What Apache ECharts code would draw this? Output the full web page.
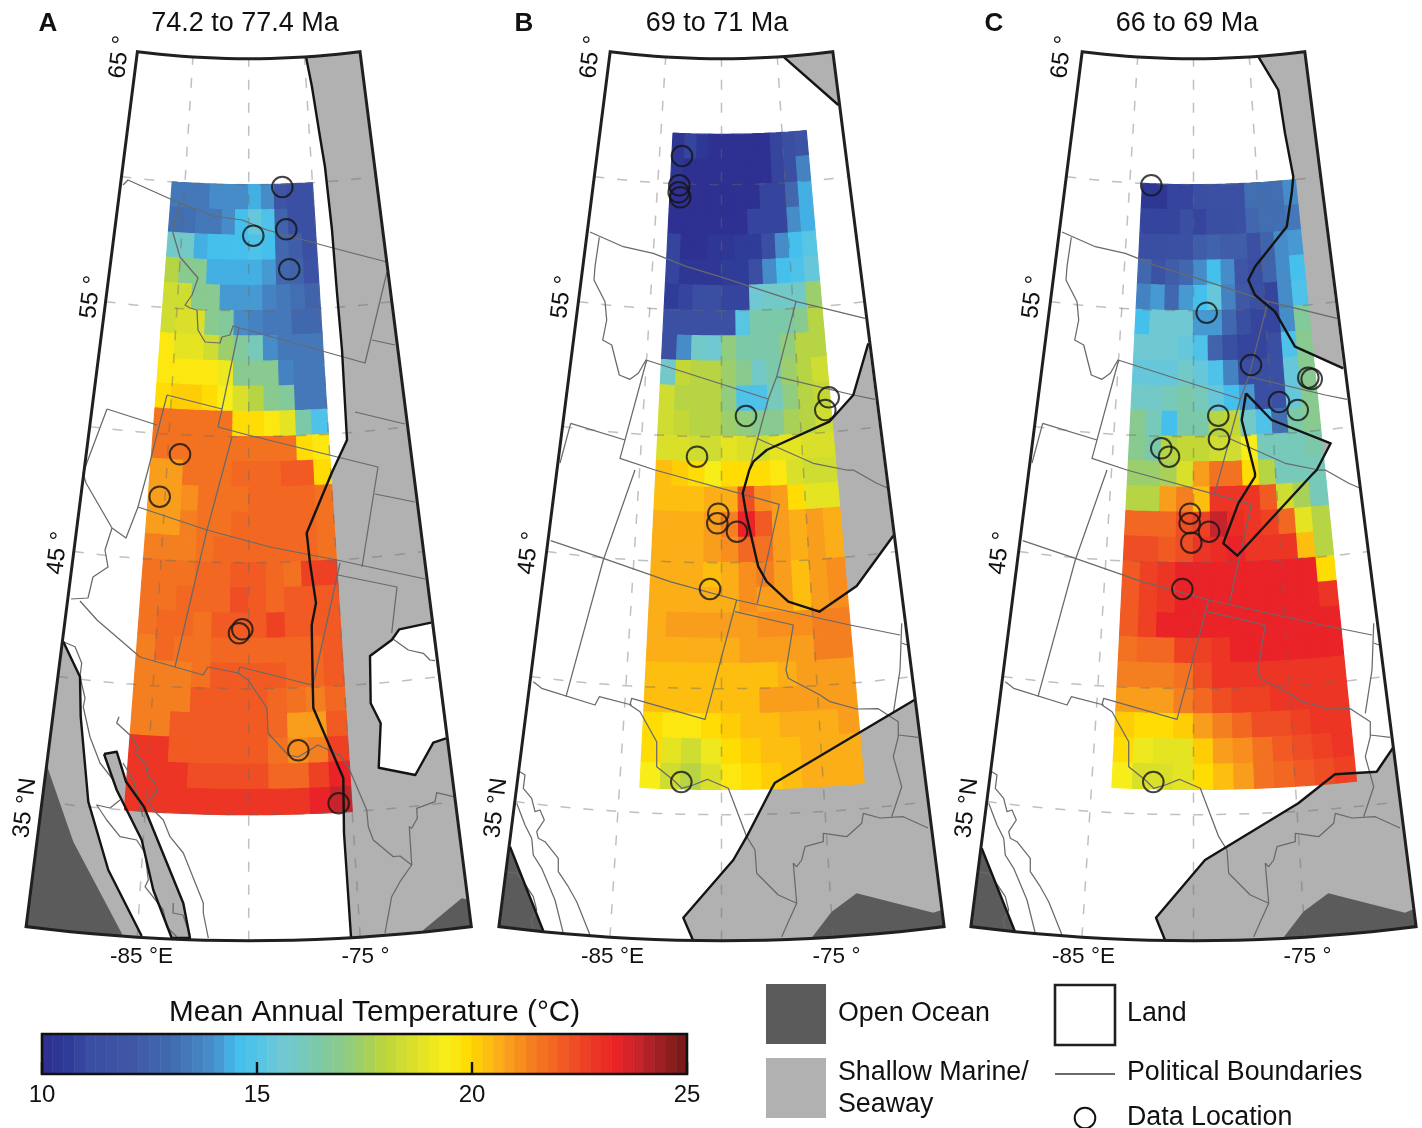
<!DOCTYPE html>
<html><head><meta charset="utf-8"><style>html,body{margin:0;padding:0;background:#fff}#c{width:1422px;height:1128px}</style>
<script src="https://cdn.jsdelivr.net/npm/echarts@6/dist/echarts.min.js"></script></head>
<body><div id="c"></div><script>
// ---- temperature scale, 10 to 25 C in half-degree stops
const tempPalette=['#2e3192','#2f3c98','#3a4ea2','#3c52a4','#3f57a6','#4062ab','#426cb0','#4580bf','#4793cd','#43bfee','#53c4e6','#6fc9d6','#75c9c0','#7fc9a0','#8ccb88','#a3cf62','#bcd63a','#d5de2e','#e8e620','#fbee18','#ffd800','#fdb913','#f8991d','#f47b20','#f26522','#ef4b24','#ec3324','#e92227','#c4242b','#9c1f24','#7a1a1a'];
const barTicks=[10,15,20,25];
// ---- mean annual temperature, rows north to south, columns west to east, 1 degree cells
const tempA=[
[13.4,13.4,13.4,13.8,13.8,14,14.5,14,12,11.5,11.5],
[13.2,13.2,13.5,13.5,14,14.6,15.3,15,12.7,11.3,11.3],
[15.9,15.9,14.4,14.6,14.6,14.7,14.9,14.7,13,12.5,11.5],
[18,16.8,16.8,14.5,14.5,14.5,14.5,14.2,13,12.6,11.7],
[18.3,18.3,16.8,16.8,14.1,14.1,14.1,13.7,13.4,13.1,12.7],
[18.5,18.6,18.7,16.8,16.6,14,13.6,13.5,13.4,13,12.9],
[19.6,18.9,18.9,18.3,17.3,16.6,16.1,14,13.5,13.5,13.3],
[19.7,19.7,19.7,19.7,19.2,16.9,16.9,16.8,13.6,13.5,13.5],
[20,20.1,20.1,20,19.5,18.6,18,16.8,16.7,13.5,13.4],
[21.6,21.6,21.6,21.6,21.6,20,19.8,19.6,19,16.5,15],
[21.7,21.7,21.6,21.6,21.6,21.6,21.7,21.7,21.7,20,19.6],
[21,21,21.7,21.7,21.7,21.8,21.8,21.8,22.2,22.2,20],
[20.9,20.9,21.2,21.7,21.7,21.7,22,22,22,22,21.6],
[20.9,20.9,21.3,21.7,21.7,22,22,22,22,22,21.6],
[21.3,21.3,21.5,21.7,22,22,22,22,22,22,21.7],
[21.7,21.7,21.7,21.9,21.9,22.2,22.2,21.9,21.6,22.6,22.6],
[21.7,21.7,22,22,22,22.4,22.1,21.9,22.1,22.2,22.1],
[21.6,22,22,21.6,22.1,22.1,22.1,22.6,22.1,22.1,22.1],
[21.4,22,21.7,21.7,22,22,22,22,22,22,22.2],
[21.4,21.4,21.4,21.7,22.1,22.1,22.1,22.1,21.9,22,22.2],
[21.4,21.4,21.4,22.1,22.1,22.1,22.1,21.9,21.6,21.5,22],
[21.4,21.4,22.2,22.2,22.2,22.1,22.1,21.8,20.8,20.8,22.1],
[22.8,22.8,22.2,22.2,22.2,22.2,22.1,21.7,21.1,21.5,22.6],
[22.8,22.8,22.8,22.3,22.3,22.3,22.3,21.8,21.9,22.7,23.4],
[22.8,22.8,22.8,22.8,22.8,22.8,22.8,22.8,23,23.3,24]];
const tempB=[
[10.5,11,10.3,10.2,10.2,10.2,10.2,10.2,11,11.2,11.6],
[10.5,10.2,10.2,10.2,10.2,10.2,10.2,10.2,11,11.2,13.6],
[10,10,10.2,10.2,10.2,10.2,10.2,10.8,11,12.9,14.4],
[10.2,10.2,10.2,10.2,10.2,10.2,10.8,10.8,11,14,14.4],
[10.8,10.2,10.2,10.4,10.4,10.6,10.6,11.2,14,14.7,15.2],
[10.8,10.3,10.3,10.4,10.7,10.7,11.2,13.9,14.6,15,15.5],
[10.7,11,11.2,11.2,11,11,15.6,15.8,15.8,16,17.5],
[11.3,11.3,11.3,11.4,11.4,15.2,16.4,16.4,16.4,17,17.8],
[11.4,13.8,15.9,15.6,17.2,16.5,16.4,16.5,17.2,17.8,18],
[16,18.2,18,17.9,17.3,16.8,15.8,16.3,17.3,18,18.3],
[18.3,18,18,17.8,17.2,15,14.8,16.2,17.2,17.8,18.2],
[18.5,18.2,17.9,17.9,17.3,17.2,16.8,16.8,17.7,18,18.3],
[18.6,18.6,18.3,18.4,18.8,18.6,18.4,18.8,18.8,18.6,18.6],
[20.3,20.2,20,19.4,20,20,20,19.6,18.6,18.5,18.5],
[20.4,20.4,20.4,20.7,20.7,22.3,21.2,20.8,20,19,19],
[20.6,20.6,20.6,20.9,21.4,23.3,22.1,20.8,20.7,20.9,20.6],
[20.7,20.7,20.7,20.9,21.2,21.8,21.7,20.9,20.6,20.9,20.7],
[20.7,20.7,20.7,20.3,20.6,21.2,21.5,20.9,20.4,21,21.1],
[20.7,20.7,20.7,20.7,20.7,21.2,21,20.8,20.5,21,21.1],
[20.7,21,21,21,20.9,20.9,21.2,21.2,21.2,21.3,21.3],
[20.7,20.7,20.7,20.7,20.7,20.8,20.8,20.9,21,21.3,21.3],
[20.4,20.4,20.4,20.4,20.4,20.5,20.5,20.6,20.9,21,21],
[20.3,20.3,20.3,20.3,20.4,20.5,20.8,20.8,21,20.9,20.9],
[20,19.6,19.6,20,20.1,20.4,20.4,20.6,20.6,20.6,20.9],
[19.8,19,18.3,19.2,20,20.2,20.5,20.5,20.6,20.6,20.7],
[19.5,18.5,18,18.6,19.6,20,20.2,20.5,20.6,20.6,20.6]];
const tempC=[
[10.3,10.5,11,11,11.1,11.3,11.3,11.3,13.2,13.2,13.2,13.8],
[10.8,11,11,11.1,11,11.2,11.2,11.3,13,13.1,13.1,13.3],
[11.1,11.2,11.3,11.4,12.5,12.7,12.3,12.3,11.4,12.7,14,14.2],
[12.9,11.6,12.5,12.8,13.9,14.6,14,11.9,11.2,12.7,14,14.7],
[13.7,14.2,12.9,14.1,14.7,15.5,13.6,12.1,11.4,11,13.9,15],
[14.6,15.6,15.6,15.6,14.1,14.1,12.8,11.2,11,11,14,16.6],
[15.6,15.6,15.6,15.3,15,12.6,11.2,11,11,11.2,14.8,17],
[15.5,15.5,15.5,16,15.4,14.8,13.6,11.2,11.1,11.4,15.3,16.9],
[16,15.9,16.2,16.3,16.1,15.5,14.7,14.2,11.2,11.3,15.5,16.9],
[16.9,16.1,14.6,16.3,16.5,18,18.2,15.8,14.8,13.2,16.4,16.9],
[17,16.4,17.8,18.1,18.2,18.4,18.5,19.3,16.2,16.1,16.1,16.4],
[17.4,17.5,17.6,18.7,21,21.7,21.7,20,18,16.1,16.1,16.2],
[17.8,18,21,21.4,20.3,23,23,22.8,22.1,18.5,17.6,16.2],
[22,22,22,22.3,22.6,24,23.2,23,22.6,21.8,18.8,17.8],
[22.3,22.3,22.1,22.4,22.9,23.2,23.3,23,22.8,22.8,20.3,18],
[22.2,22.7,22.9,23.3,23.4,23.4,23.4,23.4,23.4,23.4,23.4,20],
[22.2,22.7,22.9,23.3,23.4,23.4,23.4,23.4,23.4,23.4,23.4,22.9],
[22.2,22.7,23.4,23.4,23.4,23.4,23.4,23.4,23.4,23.4,23.4,23.4],
[21.6,21.9,21.9,22.7,22.6,22.8,23.4,23.4,23.4,23.4,23.4,23.4],
[21.3,21.3,21.3,21.6,22.4,22.8,22.9,22.8,22.9,23,23,23],
[20.8,20.8,20.8,21.3,22,22.5,22.7,22.7,22.9,22.8,23,23],
[20.2,20,20,20.2,20.8,21.4,22,22.3,22.5,22.6,22.8,22.9],
[20,19.2,18.9,19,20.2,20.8,21.2,21.6,22.2,22.5,22.7,22.8],
[19.5,18.7,18.6,18.9,19.9,20.5,21,21.6,21.8,22.1,22.5,22.6]];
// ---- data locations, in map easting / map southing units
const sitesA=[[282.3,187],[286.3,229.3],[253.3,235.7],[289.3,269.3],[180,454.3],[159.7,496.7],[242.3,629.3],[239,633.3],[298.3,750.3],[338.7,803.3]];
const sitesB=[[682,156],[679.3,185.3],[678.7,192.3],[680.3,197.3],[746,416],[828.7,397.3],[825.3,410],[697,456.7],[718.3,513.7],[717.3,523.3],[737,531.7],[710,589],[681.3,782]];
const sitesC=[[679.3,185.3],[734.7,312.7],[779,365],[836.3,377.7],[839.7,379],[807,402],[825.7,410],[746.3,415.7],[747,439.3],[689.3,448.3],[697,456.7],[718,513.7],[717.7,523.3],[737,531.7],[719.3,542.7],[710.3,589],[681.3,782]];
// ---- paleogeography outlines, same map units
const shoreEastA=[[306,57],[312,87],[320,137],[325,167],[332,230],[337,293],[342,350],[347,440],[331.7,473],[306.7,533],[310,563],[316,603],[311.7,625],[312.7,683],[313.3,708],[343.3,778],[344,833],[351,937]];
const shoreWestA=[[63.3,641.7],[80,676.7],[80.7,716.7],[88.3,801.7],[108.3,870],[141.7,936]];
const deepWestA=[[47.3,766.7],[73.3,841.7],[121.7,933.3]];
const deepEastA=[[423.3,930],[461.7,898.3],[466.7,899.3]];
const straitA=[[104,754],[116.7,751.7],[126,781.7],[144,806.7],[183.3,903.3],[190,938],[171.7,938],[153.3,890],[141.7,840],[116.7,790],[104,754]];
const islandA=[[431,622.7],[399.3,629.3],[391.7,640],[370,656],[370.7,703.3],[380.7,723.3],[378.7,767.7],[415.3,775],[433.3,742.7],[446,738.3]];
const shoreNorthB=[[783.3,56.7],[838.3,105]];
const shoreMidB=[[868.3,343.3],[853.3,395],[829.3,421.7],[766.7,450],[753.3,461.7],[749.3,470],[742.7,493.3],[746.7,516.7],[758.3,566.7],[766.7,581.7],[788.3,601.7],[819.3,611.7],[856.7,586],[893.3,535.7]];
const shoreSouthB=[[914.3,700],[775,782.7],[771.7,788.3],[746.7,836.7],[733.3,860],[683.3,917.7],[692.7,939.5]];
const deepEastB=[[811.7,937.7],[831.7,911.7],[856.7,893.3],[933.3,912.7],[941.7,910]];
const deepWestB=[[510,846.7],[543.3,931]];
const shoreNorthC=[[786.3,56.7],[806.3,90],[813,133.3],[821.3,176.7],[819.7,193.3],[814.7,226.7],[783,266.7],[776.3,280],[783,295],[803,311.7],[823,346.7],[871.3,368.3]];
const seawayC=[[774,393.3],[799.7,420],[858.7,443.3],[844.7,470],[841.3,473.3],[765.3,555.7],[751.3,543.3],[766.3,503.3],[783,476.7],[783,473.3],[769.7,420],[774,393.3]];
const shoreSouthC=[[920.7,748.3],[904.7,771.7],[863,774.3],[826.3,803.3],[733,860],[684,917.7],[693,940]];
const deepEastC=[[811.3,937.7],[831.3,911.7],[856.3,893.3],[933,912.7],[941.3,909.3]];
const deepWestC=[[509.7,848.3],[543,931.7]];
// ---- political boundaries
const politicalA=[
[[123,185],[128,180],[177,202],[213,216],[242,220],[267,230],[333,248],[387,262]],
[[180,203],[175,220],[173,233],[180,257],[198,278],[192,295],[185,305],[190,308],[197,310],[198,330],[205,342],[220,343],[222,337],[230,335],[233,326],[365,363],[387,272]],
[[372,340],[395,345]],[[355,412],[405,424]],
[[239,328],[222,409],[218,427],[248,435],[378,467],[362,567]],
[[167,395],[222,409]],[[167,395],[148,470],[138,507],[207,530],[270,547],[337,560],[425,579]],
[[107,409],[157,425]],[[107,409],[83,473],[86,483],[112,528],[126,538],[138,507]],
[[112,528],[105,550],[108,567],[93,577],[88,598],[71,599]],
[[80,601],[97,620],[140,657],[175,667],[203,675],[208,667],[238,673],[240,667],[312,685]],
[[232,437],[207,530],[175,667]],[[340,563],[313,685]],
[[375,494],[415,502]],[[338,575],[397,587],[391.7,633]],
[[238,673],[248,680],[267,708],[268,733],[288,755],[298,757],[318,745],[333,752],[340,755],[348.3,766.7],[366.7,810],[368.3,826.7],[373.3,840],[393.3,856.7],[400,856],[411.7,865],[400,881.7],[391.7,896.7],[385,933]],
[[411.7,865],[409.3,826.7],[411.7,828.3],[417.3,818.3],[416.7,808.3],[435,801.7],[436.7,792.7],[453.3,796.7]],
[[393.3,639.3],[408.3,650],[423.3,653.3],[430,660],[435,660.7]],
[[63.3,641.7],[75,646.7],[81.7,663],[80,676.7],[85,698],[83.3,707],[90,737],[100,763],[113.3,780],[120,797]],
[[120,800],[110,808],[96.7,805],[106.7,820],[120,836.7],[136.7,840],[145,853],[148.3,880],[145,886.7],[163.3,910],[166.7,926.7],[176.7,936.7]],
[[119,716.7],[116.7,723],[130,735],[138.3,746.7],[135,753],[145,763],[148.3,776.7],[155,783],[156.7,791.7],[148.3,800],[153.3,810],[163.3,820],[170,836.7],[183.3,853],[203.3,903],[203.3,913],[208.3,938]],
[[123,763],[133.3,780],[136.7,793],[143,817]],
[[173.3,903],[173,913],[183,915],[190,935]]];
const politicalBC=[
[[590,232],[623.3,246.7],[653.3,253.3],[686.7,266.7],[720,276.7],[796.7,301.7],[865,318.3]],
[[599.3,237.3],[595,266.7],[594,280],[605,301.7],[606.7,320],[602.7,340],[611.7,345],[619.3,375],[630,379.3],[638.3,373.3],[646,360],[768.3,399]],
[[776.7,376.7],[853.3,395],[875,399.3]],
[[796,301.7],[776.7,376.7],[768.3,399],[748.3,473.3],[742.7,493]],
[[646.7,360],[620,458.3],[655,470],[779.3,504.3],[757.3,603.3]],
[[756.7,438.3],[813.3,463.3],[846.7,470],[853.3,470],[876.7,483.3],[888.3,488.3]],
[[570.7,423.3],[625,440]],[[570.7,423.3],[560,463]],
[[635,470],[603.3,560],[566,696.7]],
[[550.7,540.7],[603.3,558.3],[670,581.7],[736.7,600],[850,625],[900,635]],
[[736.7,600],[705,719.3],[631.7,698.3],[630,705],[640,711.7],[656.7,741.7],[656.7,766.7],[673.3,780],[681.7,788.3],[693.3,785],[707.3,779.3],[728.3,788.3],[746.7,836.7],[755,850],[756.7,873.3],[778.3,895],[796.7,903.3],[781.7,936.7]],
[[533.3,681.7],[541.7,688.3],[595,705],[599.3,696.7],[631.7,705]],
[[735,611.7],[793.3,625],[786,670],[788.3,678.3],[820,695],[830,701.7],[856.7,709],[878.3,708.7],[898.3,721.7],[898.3,736.7],[893.3,756.7],[901.7,786.7],[891.7,816.7]],
[[898.3,735],[918.3,737.3]],[[901.7,623.3],[900,670],[893.3,713.3]],[[901.7,643],[907,645]],
[[928,828],[903.3,816.7],[880,818],[863.3,813.3],[861.7,823.3],[846.7,836.7],[823.3,833.3],[823.3,841.7],[805,846.7],[801.7,860],[796.7,866.7],[793.3,863.3],[796.7,903.3]],
[[520,771.7],[525,775],[523.3,788.3],[531.7,798.3],[535,811.7],[540,810],[544.3,820],[536.7,831.7],[538.3,838.3],[545,841.7],[558.3,858.3],[558.3,871.7],[568.3,886.7],[576.7,901.7],[590,935]],
[[516.7,803.3],[525,825],[531.7,838.3],[533.3,855],[541.7,868.3],[555,900],[563.3,933.3]],
[[506.7,871.7],[516.7,873.3],[526.7,886.7],[533.3,896.7],[536.7,910],[531,920],[533.3,928.3]]];
// ---- labels
const panelLetters=['A','B','C'];
const panelTitles=['74.2 to 77.4 Ma','69 to 71 Ma','66 to 69 Ma'];
const latLabels=['65 °','55 °','45 °','35 °N'];
const lonLabels=['-85 °E','-75 °'];
const gratLons=[-85,-80,-75];
const gratLats=[35,40,45,50,55,60];

// ---- equidistant conic map frame
const R30=1764,KLAT=25.2,CONE=0.725,APEX=-823.3;
const proj=(cx,lon,lat)=>{const r=R30-(lat-30)*KLAT,t=(lon+80)*CONE*Math.PI/180;return [cx+r*Math.sin(t),APEX+r*Math.cos(t)];};
const arcBy=(cx,lat,x0,x1)=>{const r=R30-(lat-30)*KLAT,o=[];for(let i=0;i<=12;i++){const x=x0+(x1-x0)*i/12,d=x-cx;o.push([x,APEX+Math.sqrt(r*r-d*d)]);}return o;};
const parallel=(cx,lat,a,b)=>{const o=[];for(let l=a;a<b?l<=b:l>=b;l+=(a<b?1:-1))o.push(proj(cx,l,lat));return o;};
const framePts=cx=>[...parallel(cx,65,-90,-70),...parallel(cx,30,-70,-90)];

const CA=248.7,CB=721.5;
const eastA=[...shoreEastA,...arcBy(CA,30,351,proj(CA,-70,30)[0]),proj(CA,-70,65),...arcBy(CA,65,proj(CA,-70,65)[0],306)];
const westA=[...shoreWestA,...arcBy(CA,30,141.7,proj(CA,-90,30)[0])];
const dWestA=[...deepWestA,...arcBy(CA,30,121.7,proj(CA,-90,30)[0])];
const dEastA=[...deepEastA,...arcBy(CA,30,proj(CA,-70,30)[0],423.3)];
const northB=[...shoreNorthB,proj(CB,-70,65),...arcBy(CB,65,proj(CB,-70,65)[0],783.3)];
const midB=[...shoreMidB];
const southB=[...shoreSouthB,...arcBy(CB,30,692.7,proj(CB,-70,30)[0])];
const dEastB=[...deepEastB,...arcBy(CB,30,proj(CB,-70,30)[0],811.7)];
const dWestB=[...deepWestB,...arcBy(CB,30,543.3,proj(CB,-90,30)[0])];
const northC=[...shoreNorthC,proj(CB,-70,65),...arcBy(CB,65,proj(CB,-70,65)[0],786.3)];
const southC=[...shoreSouthC,...arcBy(CB,30,693,proj(CB,-70,30)[0])];
const dEastC=[...deepEastC,...arcBy(CB,30,proj(CB,-70,30)[0],811.3)];
const dWestC=[...deepWestC,...arcBy(CB,30,543,proj(CB,-90,30)[0])];

const panels=[
 {cx:CA,temp:tempA,lon0:-86,lat0:60,sites:sitesA,political:politicalA,shallow:[eastA,westA,straitA],deep:[dWestA,dEastA],white:[islandA],shores:[shoreEastA,shoreWestA,straitA,islandA]},
 {cx:CB,temp:tempB,lon0:-84,lat0:62,sites:sitesB,political:politicalBC,shallow:[northB,midB,southB],deep:[dEastB,dWestB],white:[],shores:[shoreNorthB,shoreMidB,shoreSouthB,deepWestB]},
 {cx:CB,temp:tempC,lon0:-84,lat0:60,sites:sitesC,political:politicalBC,shallow:[northC,southC,seawayC],deep:[dEastC,dWestC],white:[],shores:[shoreNorthC,shoreSouthC,seawayC,deepWestC]}
];
const grids=[{left:0,top:0,width:475,height:960},{left:480,top:0,width:470,height:960},{left:952,top:0,width:470,height:960},{left:42,top:1034,width:645,height:40}];
const xAxes=[[0,475],[480,950],[480,950]].map((m,i)=>({type:'value',gridIndex:i,min:m[0],max:m[1],show:false}));
const yAxes=[0,1,2].map(i=>({type:'value',gridIndex:i,min:0,max:960,inverse:true,show:false}));
xAxes.push({type:'value',gridIndex:3,min:10,max:25,interval:5,z:6,
  axisLine:{show:false},splitLine:{show:false},
  axisTick:{show:true,inside:true,length:12,lineStyle:{color:'#111',width:2.4}},
  axisLabel:{show:true,margin:9,fontSize:24,color:'#111',fontFamily:'Liberation Sans',formatter:v=>barTicks.includes(v)?String(v):''}});
yAxes.push({type:'value',gridIndex:3,min:0,max:1,show:false});

const series=[],heatIdx=[];
const pathSeries=(g,lists,closed,style)=>series.push({type:'custom',xAxisIndex:g,yAxisIndex:g,silent:true,clip:false,animation:false,
  data:lists.map((_,i)=>[i]),
  renderItem:(p,api)=>({type:closed?'polygon':'polyline',shape:{points:lists[p.dataIndex].map(q=>api.coord(q))},style:Object.assign({},style,closed?{}:{fill:null})})});

panels.forEach((P,g)=>{
  pathSeries(g,[framePts(P.cx)],true,{fill:'#fff'});
  pathSeries(g,P.shallow,true,{fill:'#b1b1b1'});
  pathSeries(g,P.deep,true,{fill:'#5b5b5c'});
  if(P.white.length)pathSeries(g,P.white,true,{fill:'#fff'});
  const cells=[];
  P.temp.forEach((row,i)=>row.forEach((v,j)=>cells.push([P.lon0+j,P.lat0-i,v])));
  heatIdx.push(series.length);
  series.push({type:'custom',xAxisIndex:g,yAxisIndex:g,silent:true,clip:false,animation:false,data:cells,
    dimensions:['lon','lat','temp'],encode:{x:-1,y:-1},
    renderItem:(p,api)=>{
      const lo=api.value(0),la=api.value(1),c=api.visual('color');
      const pts=[[lo,la],[lo+.5,la],[lo+1,la],[lo+1,la-1],[lo+.5,la-1],[lo,la-1]].map(q=>api.coord(proj(P.cx,q[0],q[1])));
      return {type:'polygon',shape:{points:pts},style:{fill:c,stroke:c,lineWidth:1.2,lineJoin:'bevel'}};
    }});
  const grat=[...gratLons.map(l=>{const o=[];for(let a=30;a<=65;a+=5)o.push(proj(P.cx,l,a));return o;}),...gratLats.map(a=>parallel(P.cx,a,-90,-70))];
  pathSeries(g,grat,false,{stroke:'rgba(105,105,105,.42)',lineWidth:1.5,lineDash:[10,13]});
  pathSeries(g,P.political,false,{stroke:'#68696b',lineWidth:1.25,lineJoin:'round'});
  pathSeries(g,P.shores,false,{stroke:'#141414',lineWidth:2.4,lineJoin:'round'});
  series.push({type:'scatter',xAxisIndex:g,yAxisIndex:g,silent:true,clip:false,animation:false,data:P.sites,symbol:'circle',symbolSize:20.6,
    itemStyle:{color:'rgba(0,0,0,0)',borderColor:'#141414',borderWidth:2}});
  pathSeries(g,[framePts(P.cx)],true,{fill:null,stroke:'#231f20',lineWidth:3,lineJoin:'miter'});
});
// colour bar: one block per quarter degree
const barCells=[];for(let i=0;i<60;i++){const v=10+i*.25;barCells.push([v,v+.25,v+.125]);}
heatIdx.push(series.length);
series.push({type:'custom',xAxisIndex:3,yAxisIndex:3,silent:true,clip:false,animation:false,data:barCells,
  dimensions:['from','to','temp'],encode:{x:-1,y:-1},
  renderItem:(p,api)=>{const a=api.coord([api.value(0),1]),b=api.coord([api.value(1),0]),c=api.visual('color');
    return {type:'rect',shape:{x:a[0],y:a[1],width:b[0]-a[0],height:b[1]-a[1]},style:{fill:c,stroke:c,lineWidth:.6}};}});
series.push({type:'custom',xAxisIndex:3,yAxisIndex:3,silent:true,clip:false,animation:false,data:[[0]],z:5,
  renderItem:(p,api)=>{const a=api.coord([10,1]),b=api.coord([25,0]);return {type:'rect',shape:{x:a[0],y:a[1],width:b[0]-a[0],height:b[1]-a[1]},style:{fill:null,stroke:'#111',lineWidth:2.6}};}});

// ---- texts and legend
const FF='"Liberation Sans",Arial,sans-serif';
const txt=(t,x,y,size,o={})=>({type:'text',x,y,rotation:o.rot||0,z:20,silent:true,style:{text:t,fill:'#111',font:`${o.bold?'bold ':''}${size}px ${FF}`,align:o.align||'center',verticalAlign:'middle'}});
const g=[];
[48,524,994].forEach((x,i)=>g.push(txt(panelLetters[i],x,24,26,{bold:true})));
[245,717,1187].forEach((x,i)=>g.push(txt(panelTitles[i],x,24,27)));
const ROT=83*Math.PI/180;
[0,471,942].forEach(dx=>{
  [[120,57],[91,297],[58,553],[25,808]].forEach((q,i)=>g.push(txt(latLabels[i],q[0]+dx,q[1],24,{rot:ROT})));
  g.push(txt(lonLabels[0],141.5+dx,957,22.5),txt(lonLabels[1],365.5+dx,957,22.5));
});
g.push(txt('Mean Annual Temperature (°C)',374.5,1013,29.7));
const sw=(x,y,fill,stroke)=>({type:'rect',z:20,silent:true,shape:{x,y,width:60,height:60},style:{fill,stroke:stroke||null,lineWidth:stroke?2.6:0}});
g.push(sw(766,984,'#5b5b5c'),sw(766,1058,'#b1b1b1'),sw(1055,985,'#fff','#231f20'));
g.push({type:'line',z:20,silent:true,shape:{x1:1055,y1:1074,x2:1115,y2:1074},style:{stroke:'#68696b',lineWidth:2}});
g.push({type:'circle',z:20,silent:true,shape:{cx:1085,cy:1118,r:10.3},style:{fill:null,stroke:'#141414',lineWidth:2}});
[['Open Ocean',838,1013.5],['Shallow Marine/',838,1072.5],['Seaway',838,1104.5],['Land',1127,1013.5],['Political Boundaries',1127,1072.5],['Data Location',1127,1117.5]]
  .forEach(t=>g.push(txt(t[0],t[1],t[2],26.8,{align:'left'})));

const chart=echarts.init(document.getElementById('c'),null,{renderer:'canvas',width:1422,height:1128});
chart.setOption({animation:false,backgroundColor:'#fff',grid:grids,xAxis:xAxes,yAxis:yAxes,
  visualMap:{type:'piecewise',show:false,min:10,max:25,splitNumber:60,dimension:2,seriesIndex:heatIdx,inRange:{color:tempPalette}},
  series,graphic:{elements:g}});
</script></body></html>
